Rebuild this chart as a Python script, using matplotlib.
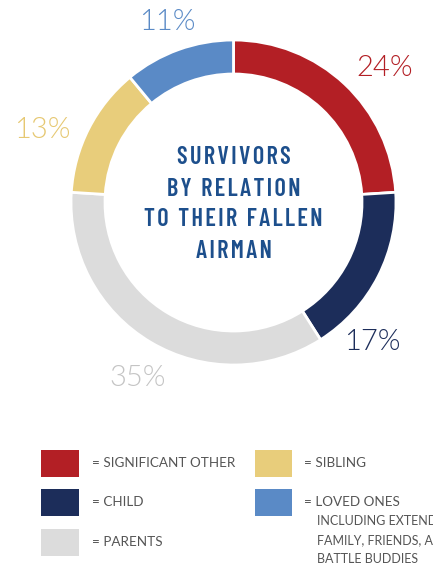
import matplotlib
matplotlib.use("Agg")
import matplotlib.pyplot as plt
from matplotlib.patches import Rectangle

categories = ["SIGNIFICANT OTHER", "CHILD", "PARENTS", "SIBLING", "LOVED ONES"]
values = [24, 17, 35, 13, 11]
colors = ["#b31f25", "#1c2d5a", "#dcdcdc", "#e8cd7b", "#5a8ac6"]
label_colors = ["#b31f25", "#1c2d5a", "#c4c4c4", "#e6c872", "#5a8ac6"]
pct_labels = ["24%", "17%", "35%", "13%", "11%"]
title_lines = ["SURVIVORS", "BY RELATION", "TO THEIR FALLEN", "AIRMAN"]
extra_lines = ["INCLUDING EXTENDED", "FAMILY, FRIENDS, AND", "BATTLE BUDDIES"]

W, H = 433, 567
fig = plt.figure(figsize=(W / 100, H / 100), dpi=100)
ax = fig.add_axes([0, 0, 1, 1])

cx, cy, R = 233.5, H - 202.5, 162.5
ax.pie(values, colors=colors, startangle=90, counterclock=False,
       center=(cx, cy), radius=R, frame=True,
       wedgeprops=dict(width=34, edgecolor="white", linewidth=2))
ax.set_xlim(0, W)
ax.set_ylim(0, H)
ax.set_aspect("equal")
ax.axis("off")

pct_font = ["Lato", "DejaVu Sans"]
label_pos = [(385, 68), (372, 342), (138, 378), (42, 130), (167, 22)]
for (x, y), t, c in zip(label_pos, pct_labels, label_colors):
    ax.text(x, H - y, t, color=c, fontsize=21, family=pct_font,
            fontweight=300, ha="center", va="center")

title_font = ["Barlow Condensed", "DejaVu Sans"]
for i, line in enumerate(title_lines):
    spaced = "\u200a".join(line)
    ax.text(cx, H - (158 + i * 31), spaced, color="#1d4f8c", fontsize=17.5,
            family=title_font, fontweight=600,
            ha="center", va="center")

# legend
leg_font = ["Lato", "DejaVu Sans"]
txt_kw = dict(color="#555555", fontsize=9.7, family=leg_font, va="center", ha="left")
left_items = [0, 1, 2]
left_y = [463, 502, 542]
for idx, y in zip(left_items, left_y):
    ax.add_patch(Rectangle((41, H - y - 13.5), 38, 27, color=colors[idx], lw=0))
    ax.text(92, H - y, "= " + categories[idx], **txt_kw)

right_items = [3, 4]
right_y = [463, 502]
for idx, y in zip(right_items, right_y):
    ax.add_patch(Rectangle((255, H - y - 13.5), 37, 27, color=colors[idx], lw=0))
    ax.text(304, H - y, "= " + categories[idx], **txt_kw)

for i, t in enumerate(extra_lines):
    ax.text(317, H - (521 + i * 19), t, color="#555555", fontsize=9,
            family=leg_font, va="center", ha="left")

fig.savefig("out.png", dpi=100)
